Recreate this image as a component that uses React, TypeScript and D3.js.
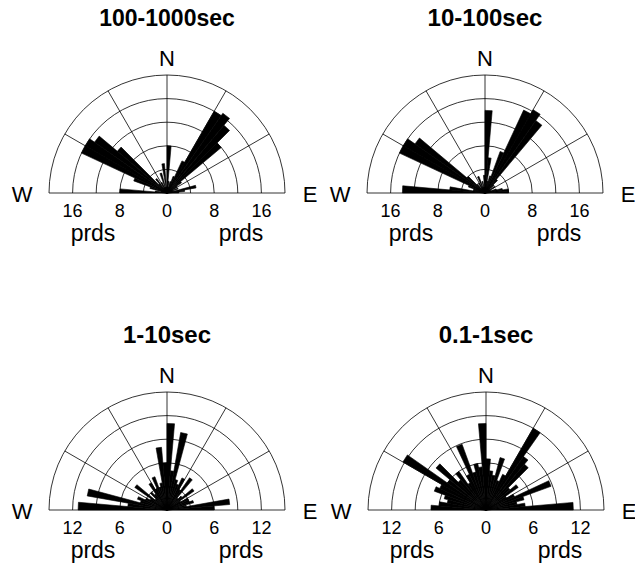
import React, { useRef, useEffect } from "react";
import * as d3 from "d3";

// Half-rose histograms of azimuth, 5 degree bins from W (-90) to E (+90)
const titles = ["100-1000sec", "10-100sec", "1-10sec", "0.1-1sec"];
const maxCounts = [20, 20, 15, 15];
const ringSteps = [4, 4, 3, 3];
const tickTop = [-16, -8, 0, 8, 16];
const tickBottom = [-12, -6, 0, 6, 12];
const spokes = [-60, -30, 0, 30, 60];
const binStarts = d3.range(-90, 90, 5);

const counts1000 = [
  8, 2, 1, 3, 6, 16, 16, 15, 11, 2, 3, 1, 2, 1, 3.5, 1, 5, 1,
  8, 2, 1, 2, 3, 6, 16, 16.5, 15, 12, 3, 2, 1, 2, 1, 5, 3, 2,
];
const counts100 = [
  14, 6, 2, 2, 3, 16, 16, 14.5, 4, 2, 1, 2, 1, 3, 1, 2, 1, 3,
  14, 6, 2, 3, 7.5, 15.5, 16.3, 15, 3, 2, 1, 2, 1, 1, 2, 3, 4, 4,
];
const counts10 = [
  11.3, 5, 10.3, 3.5, 4, 3, 2.5, 5, 2, 3, 2.5, 4, 3, 4.5, 3, 3.5, 8, 6,
  11, 5, 10, 4, 3.5, 4.5, 3, 5, 2, 2.5, 4.2, 2, 3, 3, 3.5, 2.5, 8, 6,
];
const counts1 = [
  7, 6, 5, 5.5, 7, 6.5, 12.2, 6, 8.3, 5, 6, 4, 5, 8.9, 5, 6, 5.5, 11,
  6.5, 5, 4.5, 6.9, 4, 5, 12, 8.3, 7.6, 4, 5, 3, 4, 8.8, 5, 4, 5, 11.1,
];
const allCounts = [counts1000, counts100, counts10, counts1];

const W = 635;
const H = 570;
const R = 118;
const centers = [
  [167, 193],
  [485, 193],
  [167, 510],
  [486, 510],
];
const FONT = "'Liberation Sans', Arial, Helvetica, sans-serif";

export default function App() {
  const ref = useRef<SVGSVGElement | null>(null);

  useEffect(() => {
    if (!ref.current) return;
    const svg = d3.select(ref.current);
    svg.selectAll("*").remove();

    titles.forEach((title, i) => {
      const [cx, cy] = centers[i];
      const maxC = maxCounts[i];
      const r = d3.scaleLinear().domain([0, maxC]).range([0, R]);
      const g = svg.append("g").attr("transform", `translate(${cx},${cy})`);

      // grid rings
      const rings = d3.range(ringSteps[i], maxC + 0.001, ringSteps[i]);
      rings.forEach((v) => {
        const p = d3.path();
        p.arc(0, 0, r(v), Math.PI, 2 * Math.PI);
        g.append("path")
          .attr("d", p.toString())
          .attr("fill", "none")
          .attr("stroke", "#000")
          .attr("stroke-width", 0.8);
      });

      // spokes
      spokes.forEach((a) => {
        const rad = (a * Math.PI) / 180;
        g.append("line")
          .attr("x1", 0)
          .attr("y1", 0)
          .attr("x2", r(maxC) * Math.sin(rad))
          .attr("y2", -r(maxC) * Math.cos(rad))
          .attr("stroke", "#000")
          .attr("stroke-width", 0.8);
      });
      g.append("line")
        .attr("x1", -r(maxC))
        .attr("x2", r(maxC))
        .attr("y1", 0)
        .attr("y2", 0)
        .attr("stroke", "#000")
        .attr("stroke-width", 0.8);

      // wedges
      const wedge = d3
        .lineRadial<[number, number]>()
        .angle((d) => (d[0] * Math.PI) / 180)
        .radius((d) => r(d[1]))
        .curve(d3.curveLinearClosed);
      g.selectAll("path.bar")
        .data(allCounts[i].map((c, k) => ({ a0: binStarts[k], c })))
        .enter()
        .append("path")
        .attr("class", "bar")
        .attr("d", (d) =>
          wedge([
            [0, 0],
            [d.a0, d.c],
            [d.a0 + 5, d.c],
          ])
        )
        .attr("fill", "#000")
        .attr("stroke", "#000")
        .attr("stroke-width", 0.6)
        .attr("stroke-linejoin", "miter");

      // tick labels
      const ticks = i < 2 ? tickTop : tickBottom;
      g.selectAll("text.tick")
        .data(ticks)
        .enter()
        .append("text")
        .attr("class", "tick")
        .attr("x", (d) => Math.sign(d) * r(Math.abs(d)))
        .attr("y", 24)
        .attr("text-anchor", "middle")
        .attr("font-family", FONT)
        .attr("font-size", 18)
        .text((d) => String(Math.abs(d)));

      [-74, 74].forEach((x) => {
        g.append("text")
          .attr("x", x)
          .attr("y", 48)
          .attr("text-anchor", "middle")
          .attr("font-family", FONT)
          .attr("font-size", 23)
          .text("prds");
      });

      // compass letters
      g.append("text")
        .attr("x", 0)
        .attr("y", -127)
        .attr("text-anchor", "middle")
        .attr("font-family", FONT)
        .attr("font-size", 22)
        .text("N");
      g.append("text")
        .attr("x", -145)
        .attr("y", 9)
        .attr("text-anchor", "middle")
        .attr("font-family", FONT)
        .attr("font-size", 22)
        .text("W");
      g.append("text")
        .attr("x", 143)
        .attr("y", 9)
        .attr("text-anchor", "middle")
        .attr("font-family", FONT)
        .attr("font-size", 22)
        .text("E");

      // title
      g.append("text")
        .attr("x", 0)
        .attr("y", -167)
        .attr("text-anchor", "middle")
        .attr("font-family", FONT)
        .attr("font-size", i === 0 ? 23 : 24)
        .attr("font-weight", "bold")
        .text(title);
    });
  }, []);

  return (
    <svg
      ref={ref}
      width={W}
      height={H}
      style={{ position: "absolute", left: 0, top: 0, background: "#fff" }}
    />
  );
}
